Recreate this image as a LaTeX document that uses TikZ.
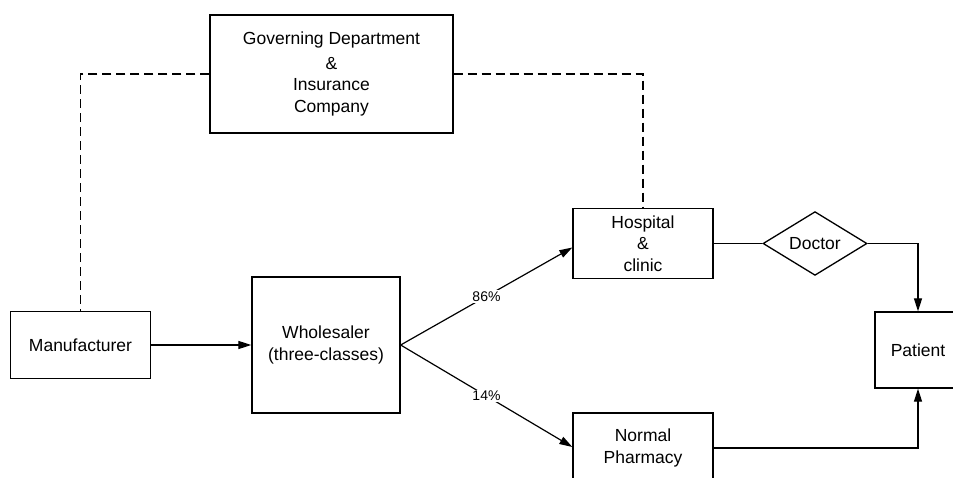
\documentclass[tikz,border=0pt]{standalone}
\usepackage{fontspec}
\setmainfont{Liberation Sans}
\usetikzlibrary{arrows.meta,shapes.geometric,calc}
\begin{document}
\begin{tikzpicture}[x=1pt,y=-1pt,
  box/.style={draw,line width=1.3pt,rectangle,inner sep=0pt,align=center,font=\fontsize{17.5}{21.5}\selectfont},
  conn/.style={line width=1.2pt},
  arr/.style={conn,-{Triangle[length=13pt,width=8pt]}},
  dline/.style={line width=1.2pt,dash pattern=on 9pt off 5pt},
  pct/.style={fill=white,inner sep=1.5pt,font=\fontsize{14}{16}\selectfont}]
\useasboundingbox (0,0) rectangle (953,478);
\clip (0,0) rectangle (953,478);
\node[box,minimum width=243pt,minimum height=118pt] (gov) at (331.5,74)
  {Governing Department\\[3pt]\&\\Insurance\\Company};
\node[box,minimum width=140pt,minimum height=67pt] (man) at (80.5,345) {Manufacturer};
\node[box,minimum width=148pt,minimum height=136pt] (who) at (326,345) {Wholesaler\\(three-classes)};
\node[box,minimum width=140pt,minimum height=70pt] (hosp) at (643,243.5) {Hospital\\\&\\clinic};
\node[draw,line width=1.3pt,diamond,inner sep=0pt,minimum width=104pt,minimum height=59pt,
  font=\fontsize{17.5}{21.5}\selectfont] (doc) at (815,243.5) {Doctor};
\node[box,minimum width=86pt,minimum height=76pt] (pat) at (918,350) {Patient};
\node[box,minimum width=140pt,minimum height=70pt] (pharm) at (643,448) {Normal\\Pharmacy};
\coordinate (hin) at ($(hosp.west)+(0,4)$);
\coordinate (pin) at ($(pharm.west)+(0,-1)$);
\draw[arr] (man.east) -- (who.west);
\draw[arr] (who.east) -- node[pct] {86\%} (hin);
\draw[arr] (who.east) -- node[pct] {14\%} (pin);
\draw[conn] (hosp.east) -- (doc.west);
\draw[arr] (doc.east) -| (pat.north);
\draw[arr] (pharm.east) -| (pat.south);
\draw[dline] (gov.west) -| (man.north);
\draw[dline] (gov.east) -| (hosp.north);
\end{tikzpicture}
\end{document}
